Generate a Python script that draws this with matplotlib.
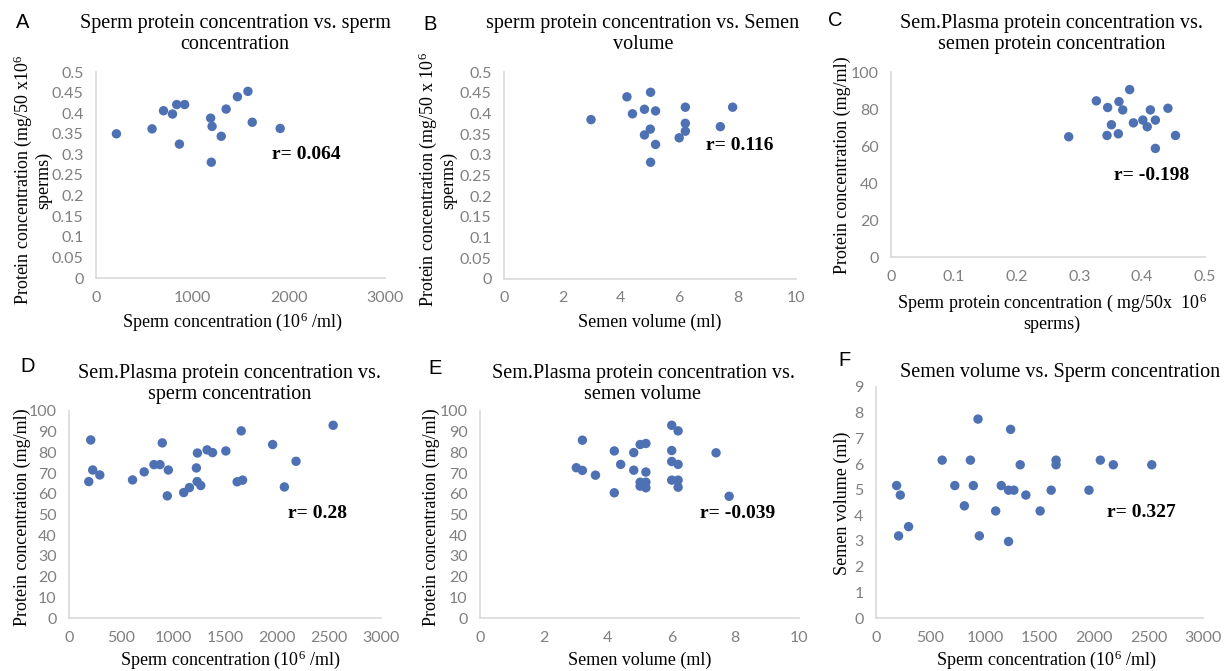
import numpy as np
import matplotlib
matplotlib.use("Agg")
import matplotlib.pyplot as plt

plt.rcParams['mathtext.fontset'] = 'custom'
plt.rcParams['mathtext.rm'] = 'Liberation Serif'
plt.rcParams['mathtext.it'] = 'Liberation Serif:italic'
plt.rcParams['mathtext.bf'] = 'Liberation Serif:bold'

# ---- data ----
# A: sperm protein conc. vs sperm concentration
a_x = [212, 582, 701, 794, 838, 920, 866, 1190, 1205, 1197, 1300, 1351, 1468, 1577, 1622, 1912]
a_y = [0.350, 0.362, 0.406, 0.398, 0.421, 0.421, 0.325, 0.388, 0.368, 0.281, 0.344, 0.410, 0.440, 0.453, 0.378, 0.363]

# B: sperm protein conc. vs semen volume
b_x = [2.98, 4.21, 4.40, 4.81, 5.02, 5.19, 5.01, 4.81, 5.19, 5.02, 6.21, 6.21, 6.21, 6.00, 7.41, 7.83]
b_y = [0.385, 0.440, 0.399, 0.410, 0.451, 0.406, 0.362, 0.348, 0.325, 0.282, 0.415, 0.376, 0.357, 0.341, 0.368, 0.415]

# C: seminal plasma protein vs sperm protein conc.
c_x = [0.283, 0.327, 0.345, 0.351, 0.344, 0.363, 0.369, 0.362, 0.380, 0.386, 0.401, 0.408, 0.413, 0.421, 0.421, 0.441, 0.453]
c_y = [65.0, 84.4, 80.8, 71.5, 65.7, 84.0, 79.5, 66.6, 90.5, 72.5, 74.0, 70.4, 79.5, 74.0, 58.7, 80.4, 65.7]

# D: seminal plasma protein vs sperm concentration
d_x = [190, 209, 228, 296, 611, 723, 817, 875, 897, 955, 945, 1103, 1158, 1225, 1235, 1232, 1267,
       1328, 1380, 1508, 1617, 1656, 1669, 1958, 2071, 2183, 2540]
d_y = [65.9, 86.0, 71.5, 69.1, 66.7, 70.6, 74.1, 74.1, 84.6, 71.5, 59.0, 60.6, 63.0, 72.5, 79.7, 65.9, 64.0,
       81.2, 79.9, 80.7, 65.8, 90.4, 66.6, 83.8, 63.3, 75.7, 93.1]

# E: seminal plasma protein vs semen volume
e_x = [3.02, 3.21, 3.21, 3.62, 4.21, 4.21, 4.41, 4.82, 4.82, 5.02, 5.20, 5.20, 5.02, 5.02, 5.20, 5.20,
       6.01, 6.21, 6.01, 6.01, 6.21, 6.01, 6.21, 6.21, 7.40, 7.81]
e_y = [72.6, 71.3, 85.9, 69.0, 80.7, 60.5, 74.2, 79.9, 71.4, 83.8, 84.3, 70.5, 65.6, 63.7, 65.6, 62.9,
       93.1, 90.4, 80.9, 75.6, 74.2, 66.6, 66.6, 63.2, 79.8, 58.8]

# F: semen volume vs sperm concentration
f_x = [189, 223, 207, 299, 607, 723, 811, 866, 893, 936, 948, 1098, 1149, 1216, 1265, 1216, 1235,
       1323, 1375, 1506, 1607, 1652, 1652, 1954, 2058, 2177, 2530]
f_y = [5.16, 4.79, 3.20, 3.56, 6.15, 5.16, 4.37, 6.15, 5.16, 7.75, 3.20, 4.17, 5.16, 4.98, 4.98, 2.98, 7.35,
       5.97, 4.79, 4.17, 4.98, 6.15, 5.97, 4.98, 6.15, 5.97, 5.97]

r_vals = ["r= 0.064", "r= 0.116", "r= -0.198", "r= 0.28", "r= -0.039", "r= 0.327"]

W, H = 1225, 671
fig = plt.figure(figsize=(W / 100, H / 100), dpi=100)


def px(x, y):
    return x / W, 1 - y / H


def make_ax(l, t, r, b):
    return fig.add_axes([l / W, 1 - b / H, (r - l) / W, (b - t) / H])


SERIF = 'Liberation Serif'
TICKFONT = 'Lato'
DOT = '#4e71b4'
GREY = '#808080'


def style(ax, xticks, yticks):
    ax.set_xlim(xticks[0], xticks[-1])
    ax.set_ylim(yticks[0], yticks[-1])
    ax.set_xticks(xticks)
    ax.set_yticks(yticks)
    ax.set_xticklabels(['%g' % v for v in xticks])
    ax.set_yticklabels(['%g' % v for v in yticks])
    for s in ['top', 'right']:
        ax.spines[s].set_visible(False)
    for s in ['left', 'bottom']:
        ax.spines[s].set_color('#d9d9d9')
        ax.spines[s].set_linewidth(1.2)
    ax.tick_params(length=0, labelsize=11.5, labelcolor=GREY, pad=9)
    for lab in ax.get_xticklabels() + ax.get_yticklabels():
        lab.set_fontfamily(TICKFONT)


def scatter(ax, x, y):
    ax.scatter(x, y, s=46, color=DOT, edgecolors='none', clip_on=False, zorder=3)


panels = [
    # axes box (l,t,r,b), data, xticks, yticks, r position
    ((96, 72, 385, 278), a_x, a_y, np.arange(0, 3001, 1000), np.linspace(0, 0.5, 11), (0.727, 0.60)),
    ((504, 72, 796, 279), b_x, b_y, np.arange(0, 11, 2), np.linspace(0, 0.5, 11), (0.808, 0.643)),
    ((891, 72, 1205, 257), c_x, c_y, np.linspace(0, 0.5, 6), np.arange(0, 101, 20), (0.831, 0.443)),
    ((69, 411, 381, 618), d_x, d_y, np.arange(0, 3001, 500), np.arange(0, 101, 10), (0.798, 0.507)),
    ((480, 411, 799, 618), e_x, e_y, np.arange(0, 11, 2), np.arange(0, 101, 10), (0.809, 0.507)),
    ((876, 387, 1203, 618), f_x, f_y, np.arange(0, 3001, 500), np.arange(0, 10, 1), (0.813, 0.455)),
]

for i, (box, x, y, xt, yt, rpos) in enumerate(panels):
    ax = make_ax(*box)
    style(ax, xt, yt)
    scatter(ax, x, y)
    ax.text(rpos[0], rpos[1], r_vals[i], transform=ax.transAxes, ha='center', va='center',
            fontsize=14, fontweight='bold', family=SERIF)

# panel letters
for letter, (lx, ly) in zip('ABCDEF', [(23, 23), (430, 24), (835, 20), (28, 367), (435, 368), (844, 360)]):
    fig.text(*px(lx, ly), letter, fontsize=14.5, family='Liberation Sans', ha='center', va='center')

# titles
titles = [
    ("Sperm protein concentration vs. sperm\nconcentration", 235, 34),
    ("sperm protein concentration vs. Semen\nvolume", 643, 34),
    ("Sem.Plasma protein concentration vs.\nsemen protein concentration", 1052, 34),
    ("Sem.Plasma protein concentration vs.\nsperm concentration", 230, 384),
    ("Sem.Plasma protein concentration vs.\nsemen volume", 643, 384),
    ("Semen volume vs. Sperm concentration", 1060, 372),
]
for t, tx, ty in titles:
    fig.text(*px(tx, ty), t, fontsize=14.5, family=SERIF, ha='center', va='center',
             multialignment='center', linespacing=1.15)

# x labels
xlabels = [
    ("Sperm concentration (10$^{6}$ /ml)", 232, 322),
    ("Semen volume (ml)", 650, 322),
    ("Sperm protein concentration ( mg/50x  10$^{6}$\nsperms)", 1052, 312),
    ("Sperm concentration (10$^{6}$ /ml)", 230, 660),
    ("Semen volume (ml)", 640, 660),
    ("Sperm concentration (10$^{6}$ /ml)", 1046, 660),
]
for t, tx, ty in xlabels:
    fig.text(*px(tx, ty), t, fontsize=13, family=SERIF, ha='center', va='center',
             multialignment='center', linespacing=1.1)

# y labels
ylabels = [
    ("Protein concentration (mg/50 x10$^{6}$\nsperms)", 32, 180),
    ("Protein concentration (mg/50 x 10$^{6}$\nsperms)", 437, 180),
    ("Protein concentration (mg/ml)", 842, 165),
    ("Protein concentration (mg/ml)", 22, 517),
    ("Protein concentration (mg/ml)", 431, 517),
    ("Semen volume (ml)", 842, 503),
]
for t, tx, ty in ylabels:
    fig.text(*px(tx, ty), t, fontsize=13, family=SERIF, ha='center', va='center', rotation=90,
             multialignment='center', linespacing=1.05)

fig.savefig('out.png', dpi=100)
